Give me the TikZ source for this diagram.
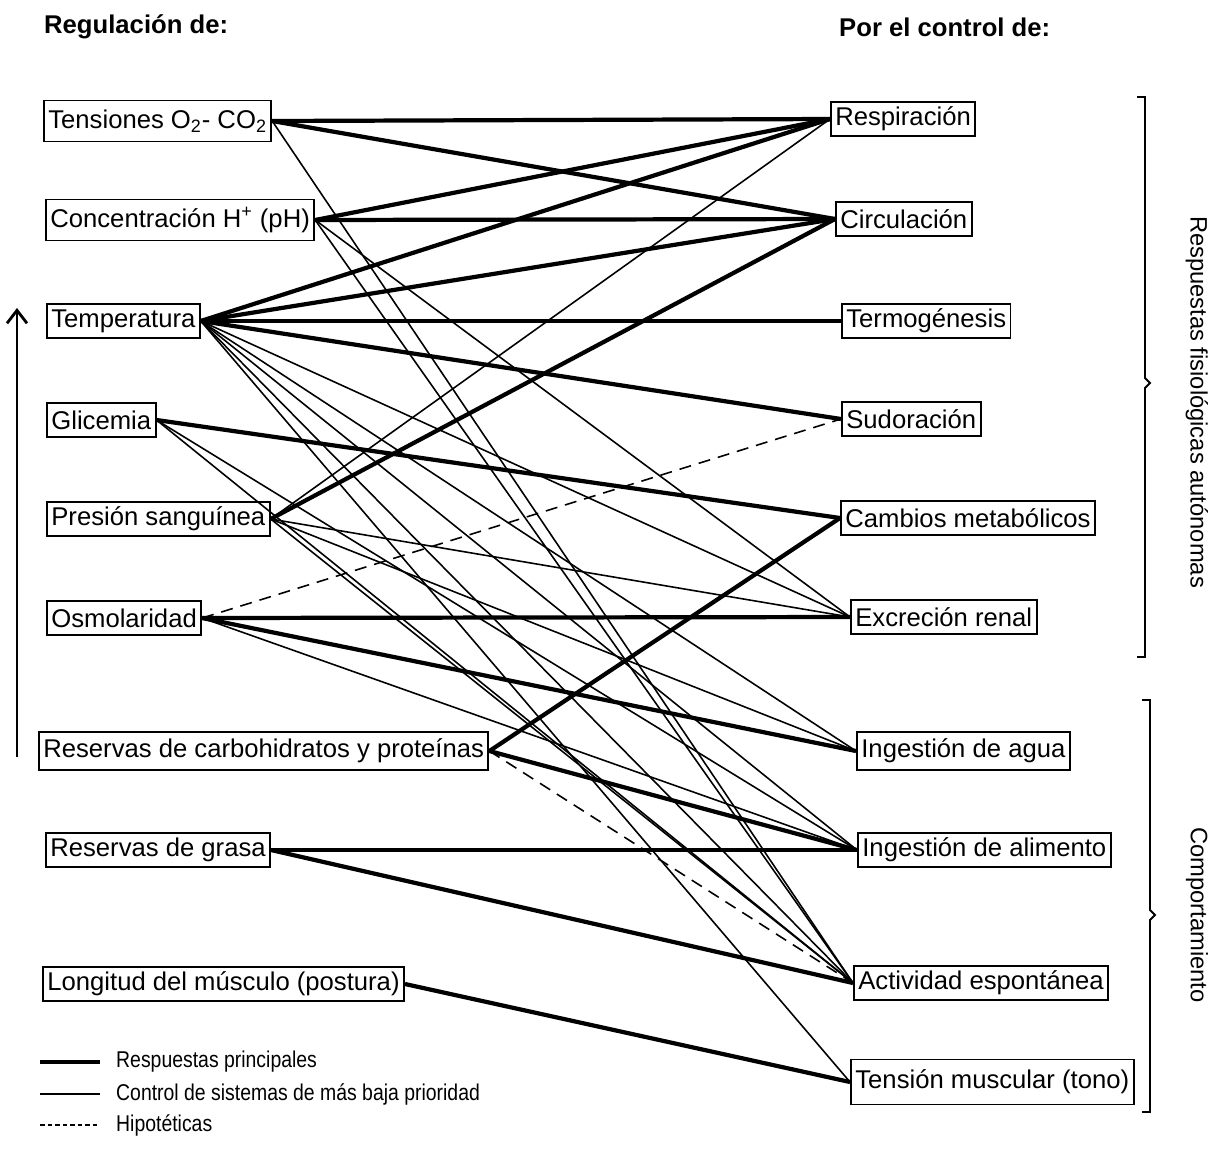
\documentclass[tikz,border=0pt]{standalone}
\usepackage{fontspec}
\setmainfont{Liberation Sans}
\newfontfamily\legendfont[FakeStretch=0.85]{Liberation Sans}
\usepackage{tikz}
\usetikzlibrary{arrows.meta}
\tikzstyle{reg}=[rectangle,draw=black,line width=1.1pt,anchor=west,inner xsep=2.5pt,inner ysep=0pt,minimum height=6.8mm,font=\fontsize{14.6}{16}\selectfont]
\tikzstyle{tall}=[minimum height=8.2mm]
\tikzstyle{main}=[line width=2.4pt]
\tikzstyle{minor}=[line width=0.9pt]
\tikzstyle{hypo}=[line width=0.9pt,dash pattern=on 2.4mm off 1.6mm]
\tikzstyle{brace}=[line width=1.1pt]
\tikzstyle{legend}=[anchor=west,font=\legendfont\fontsize{13}{14}\selectfont]
\begin{document}
\begin{tikzpicture}[x=0.2mm,y=-0.2mm]
  \useasboundingbox (0,0) rectangle (1222,1167);
  \node[anchor=west,font=\bfseries\fontsize{14.6}{16}\selectfont] at (38,27) (hreg) {Regulación de:};
  \node[anchor=west,font=\bfseries\fontsize{14.6}{16}\selectfont] at (833,27) (hctl) {Por el control de:};
  % variables reguladas
  \node[reg,tall] at (43,121) (tens) {Tensiones O\textsubscript{2}- CO\textsubscript{2}};
  \node[reg,tall] at (45,220) (ph) {Concentración H\textsuperscript{+} (pH)};
  \node[reg] at (46,321) (temp) {Temperatura};
  \node[reg] at (46,420) (glic) {Glicemia};
  \node[reg] at (46,519) (pres) {Presión sanguínea};
  \node[reg] at (46,618) (osmo) {Osmolaridad};
  \node[reg,minimum height=7.6mm] at (38,751) (carb) {Reservas de carbohidratos y proteínas};
  \node[reg] at (45,850) (grasa) {Reservas de grasa};
  \node[reg] at (42,984) (musc) {Longitud del músculo (postura)};
  % respuestas
  \node[reg] at (830,119) (resp) {Respiración};
  \node[reg] at (835,219) (circ) {Circulación};
  \node[reg] at (841,321) (termo) {Termogénesis};
  \node[reg] at (841,419) (sudor) {Sudoración};
  \node[reg] at (840,518) (metab) {Cambios metabólicos};
  \node[reg] at (850,617) (renal) {Excreción renal};
  \node[reg,minimum height=7.6mm] at (856,751) (agua) {Ingestión de agua};
  \node[reg] at (857,850) (alim) {Ingestión de alimento};
  \node[reg] at (853,983) (activ) {Actividad espontánea};
  \node[reg,minimum height=9mm] at (850,1082) (tono) {Tensión muscular (tono)};
  % respuestas principales
  \draw[main] (tens.east) -- (resp.west);
  \draw[main] (tens.east) -- (circ.west);
  \draw[main] (ph.east) -- (resp.west);
  \draw[main] (ph.east) -- (circ.west);
  \draw[main] (temp.east) -- (resp.west);
  \draw[main] (temp.east) -- (circ.west);
  \draw[main] (temp.east) -- (termo.west);
  \draw[main] (temp.east) -- (sudor.west);
  \draw[main] (glic.east) -- (metab.west);
  \draw[main] (pres.east) -- (circ.west);
  \draw[main] (osmo.east) -- (renal.west);
  \draw[main] (osmo.east) -- (agua.west);
  \draw[main] (carb.east) -- (metab.west);
  \draw[main] (carb.east) -- (alim.west);
  \draw[main] (grasa.east) -- (alim.west);
  \draw[main] (grasa.east) -- (activ.west);
  \draw[main] (musc.east) -- (tono.west);
  % baja prioridad
  \draw[minor] (pres.east) -- (resp.west);
  \draw[minor] (ph.east) -- (renal.west);
  \draw[minor] (pres.east) -- (renal.west);
  \draw[minor] (temp.east) -- (renal.west);
  \draw[minor] (pres.east) -- (agua.west);
  \draw[minor] (temp.east) -- (agua.west);
  \draw[minor] (osmo.east) -- (alim.west);
  \draw[minor] (temp.east) -- (alim.west);
  \draw[minor] (glic.east) -- (alim.west);
  \draw[minor] (glic.east) -- (activ.west);
  \draw[minor] (pres.east) -- (activ.west);
  \draw[minor] (temp.east) -- (activ.west);
  \draw[minor] (ph.east) -- (activ.west);
  \draw[minor] (tens.east) -- (activ.west);
  \draw[minor] (temp.east) -- (tono.west);
  % hipoteticas
  \draw[hypo] (osmo.east) -- (sudor.west);
  \draw[hypo] (carb.east) -- (activ.west);
  % flecha y llaves
  \coordinate (up0) at (17,757);
  \coordinate (up1) at (17,308);
  \draw[line width=1.6pt,-{Straight Barb[length=2.6mm,width=4mm]}] (up0) -- (up1);
  \draw[brace] (1137,97) -- (1145,97) -- (1145,378) -- (1150,383) -- (1145,388) -- (1145,657) -- (1137,657);
  \draw[brace] (1142,700) -- (1150,700) -- (1150,910) -- (1155,915) -- (1150,920) -- (1150,1112) -- (1142,1112);
  \node[rotate=-90,font=\fontsize{13.5}{15}\selectfont] at (1197,402) (lauto) {Respuestas fisiológicas autónomas};
  \node[rotate=-90,font=\fontsize{13.5}{15}\selectfont] at (1197,915) (lcomp) {Comportamiento};
  % leyenda
  \coordinate (k1a) at (40,1062); \coordinate (k1b) at (100,1062);
  \coordinate (k2a) at (40,1094); \coordinate (k2b) at (100,1094);
  \coordinate (k3a) at (40,1125); \coordinate (k3b) at (100,1125);
  \draw[main,line width=2pt] (k1a) -- (k1b);
  \draw[minor] (k2a) -- (k2b);
  \draw[line width=0.8pt,dash pattern=on 0.9mm off 0.6mm] (k3a) -- (k3b);
  \node[legend] at (110,1062) (t1) {Respuestas principales};
  \node[legend] at (110,1094) (t2) {Control de sistemas de más baja prioridad};
  \node[legend] at (110,1125) (t3) {Hipotéticas};
\end{tikzpicture}
\end{document}
